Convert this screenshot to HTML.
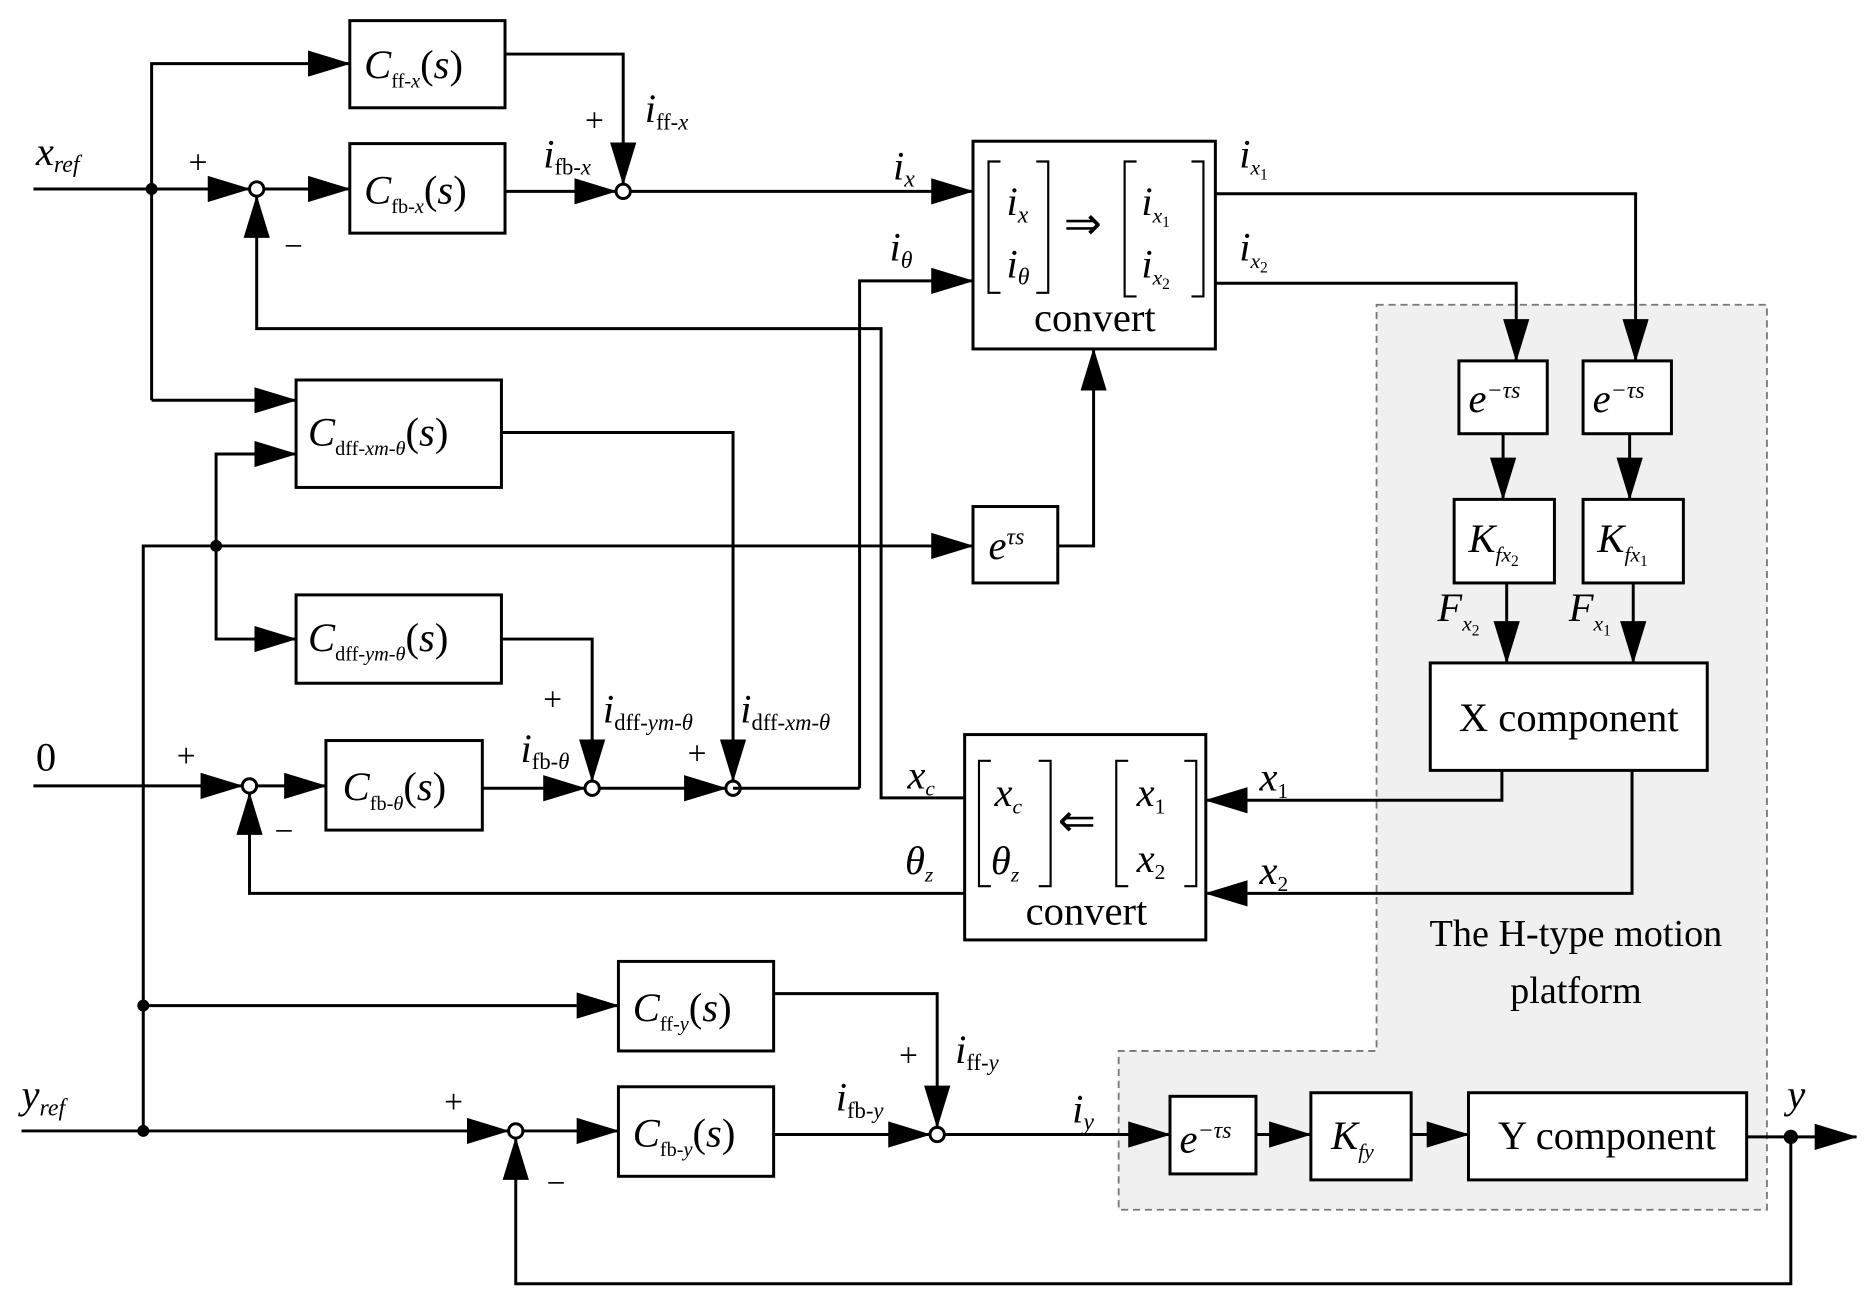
<!DOCTYPE html>
<html><head><meta charset="utf-8"><style>
html,body{margin:0;padding:0;background:#fff}
svg{display:block}
text{font-family:"Liberation Serif",serif;fill:#000}
.i{font-style:italic}
</style></head><body>
<svg width="1872" height="1302" viewBox="0 0 1568 1090" xmlns="http://www.w3.org/2000/svg">
<defs>
<marker id="a" markerUnits="userSpaceOnUse" markerWidth="36" markerHeight="22" refX="35" refY="11" orient="auto">
<path d="M0,0 L36,11 L0,22 Z" fill="#000"/></marker>
</defs>
<polygon points="1153,255 1480,255 1480,1013 937,1013 937,880 1153,880" fill="#f0f0f0" stroke="#777" stroke-width="1.5" stroke-dasharray="6,4"/>
<g fill="none" stroke="#000" stroke-width="2.5">
<rect x="293" y="17" width="130" height="73" fill="#fff"/>
<rect x="293" y="120" width="130" height="75" fill="#fff"/>
<rect x="815" y="118" width="203" height="174" fill="#fff"/>
<rect x="248" y="318" width="172" height="90" fill="#fff"/>
<rect x="815" y="424" width="71" height="64" fill="#fff"/>
<rect x="248" y="498" width="172" height="74" fill="#fff"/>
<rect x="273" y="620" width="131" height="75" fill="#fff"/>
<rect x="808" y="615" width="202" height="172" fill="#fff"/>
<rect x="1222" y="302" width="74" height="61" fill="#fff"/>
<rect x="1326" y="302" width="74" height="61" fill="#fff"/>
<rect x="1218" y="418" width="84" height="70" fill="#fff"/>
<rect x="1326" y="418" width="84" height="70" fill="#fff"/>
<rect x="1198" y="555" width="232" height="90" fill="#fff"/>
<rect x="518" y="805" width="130" height="75" fill="#fff"/>
<rect x="518" y="910" width="130" height="75" fill="#fff"/>
<rect x="980" y="918" width="72" height="65" fill="#fff"/>
<rect x="1098" y="915" width="84" height="73" fill="#fff"/>
<rect x="1230" y="915" width="233" height="73" fill="#fff"/>
<circle cx="215" cy="158" r="6" fill="#fff"/>
<circle cx="522" cy="160" r="6" fill="#fff"/>
<circle cx="209" cy="658" r="6" fill="#fff"/>
<circle cx="496" cy="660" r="6" fill="#fff"/>
<circle cx="614" cy="660" r="6" fill="#fff"/>
<circle cx="432" cy="947" r="6" fill="#fff"/>
<circle cx="785" cy="950" r="6" fill="#fff"/>
<path d="M127,335 L127,53 L293,53" marker-end="url(#a)"/>
<path d="M127,335 L248,335" marker-end="url(#a)"/>
<path d="M423,45 L522,45 L522,154" marker-end="url(#a)"/>
<path d="M28,158 L209,158" marker-end="url(#a)"/>
<path d="M221,158 L293,158" marker-end="url(#a)"/>
<path d="M423,160 L516,160" marker-end="url(#a)"/>
<path d="M528,160 L815,160" marker-end="url(#a)"/>
<path d="M808,668 L738,668 L738,275 L215,275 L215,164" marker-end="url(#a)"/>
<path d="M720,660 L720,235 L815,235" marker-end="url(#a)"/>
<path d="M614,660 L720,660"/>
<path d="M120,947 L120,457 L815,457" marker-end="url(#a)"/>
<path d="M886,457 L916,457 L916,292" marker-end="url(#a)"/>
<path d="M181,457 L181,380 L248,380" marker-end="url(#a)"/>
<path d="M181,457 L181,535 L248,535" marker-end="url(#a)"/>
<path d="M420,362 L614,362 L614,654" marker-end="url(#a)"/>
<path d="M420,535 L496,535 L496,654" marker-end="url(#a)"/>
<path d="M28,658 L203,658" marker-end="url(#a)"/>
<path d="M215,658 L273,658" marker-end="url(#a)"/>
<path d="M404,660 L490,660" marker-end="url(#a)"/>
<path d="M502,660 L608,660" marker-end="url(#a)"/>
<path d="M808,748 L209,748 L209,664" marker-end="url(#a)"/>
<path d="M1258,645 L1258,670 L1010,670" marker-end="url(#a)"/>
<path d="M1367,645 L1367,748 L1010,748" marker-end="url(#a)"/>
<path d="M1018,162 L1370,162 L1370,302" marker-end="url(#a)"/>
<path d="M1018,237 L1270,237 L1270,302" marker-end="url(#a)"/>
<path d="M1259,363 L1259,418" marker-end="url(#a)"/>
<path d="M1365,363 L1365,418" marker-end="url(#a)"/>
<path d="M1262,488 L1262,555" marker-end="url(#a)"/>
<path d="M1368,488 L1368,555" marker-end="url(#a)"/>
<path d="M120,842 L518,842" marker-end="url(#a)"/>
<path d="M648,832 L785,832 L785,944" marker-end="url(#a)"/>
<path d="M18,947 L426,947" marker-end="url(#a)"/>
<path d="M438,947 L518,947" marker-end="url(#a)"/>
<path d="M648,950 L779,950" marker-end="url(#a)"/>
<path d="M791,950 L980,950" marker-end="url(#a)"/>
<path d="M1052,950 L1098,950" marker-end="url(#a)"/>
<path d="M1182,950 L1230,950" marker-end="url(#a)"/>
<path d="M1463,952 L1555,952" marker-end="url(#a)"/>
<path d="M1500,952 L1500,1075 L432,1075 L432,953" marker-end="url(#a)"/>
</g>
<g fill="none" stroke="#000" stroke-width="1.8">
<path d="M838,135 L828,135 L828,245 L838,245 M868,135 L878,135 L878,245 L868,245"/>
<path d="M952,135 L942,135 L942,248 L952,248 M998,135 L1008,135 L1008,248 L998,248"/>
<path d="M830,637 L820,637 L820,742 L830,742 M870,637 L880,637 L880,742 L870,742"/>
<path d="M945,637 L935,637 L935,742 L945,742 M992,637 L1002,637 L1002,742 L992,742"/>
</g>
<g fill="#000">
<circle cx="127" cy="158" r="5"/><circle cx="181" cy="457" r="5"/>
<circle cx="120" cy="842" r="5"/><circle cx="120" cy="947" r="5"/>
<circle cx="1500" cy="952" r="6"/>
</g>
<g font-size="34">
<text x="305" y="65" class="i">C<tspan font-size="17" font-style="normal" dy="8">ff-</tspan><tspan font-size="17" dy="0">x</tspan><tspan dy="-8" font-style="normal">(</tspan>s<tspan font-style="normal">)</tspan></text>
<text x="305" y="170" class="i">C<tspan font-size="17" font-style="normal" dy="8">fb-</tspan><tspan font-size="17">x</tspan><tspan dy="-8" font-style="normal">(</tspan>s<tspan font-style="normal">)</tspan></text>
<text x="258" y="373" class="i">C<tspan font-size="17" font-style="normal" dy="8">dff-</tspan><tspan font-size="17">xm-θ</tspan><tspan dy="-8" font-style="normal">(</tspan>s<tspan font-style="normal">)</tspan></text>
<text x="258" y="545" class="i">C<tspan font-size="17" font-style="normal" dy="8">dff-</tspan><tspan font-size="17">ym-θ</tspan><tspan dy="-8" font-style="normal">(</tspan>s<tspan font-style="normal">)</tspan></text>
<text x="287" y="670" class="i">C<tspan font-size="17" font-style="normal" dy="8">fb-</tspan><tspan font-size="17">θ</tspan><tspan dy="-8" font-style="normal">(</tspan>s<tspan font-style="normal">)</tspan></text>
<text x="530" y="855" class="i">C<tspan font-size="17" font-style="normal" dy="8">ff-</tspan><tspan font-size="17">y</tspan><tspan dy="-8" font-style="normal">(</tspan>s<tspan font-style="normal">)</tspan></text>
<text x="530" y="960" class="i">C<tspan font-size="17" font-style="normal" dy="8">fb-</tspan><tspan font-size="17">y</tspan><tspan dy="-8" font-style="normal">(</tspan>s<tspan font-style="normal">)</tspan></text>
<text x="917" y="277" text-anchor="middle">convert</text>
<text x="910" y="774" text-anchor="middle">convert</text>
<text x="1314" y="612" text-anchor="middle">X component</text>
<text x="1346" y="962" text-anchor="middle">Y component</text>
<text x="1320" y="792" font-size="32" text-anchor="middle">The H-type motion</text>
<text x="1320" y="840" font-size="32" text-anchor="middle">platform</text>
<text x="30" y="645">0</text>
</g>
<g font-size="34" class="i">
<text x="843" y="180" class="i">i<tspan font-size="20" dy="6">x</tspan></text>
<text x="843" y="232" class="i">i<tspan font-size="20" dy="6">θ</tspan></text>
<text x="956" y="180" class="i">i<tspan font-size="18" dy="6">x</tspan><tspan font-size="13" font-style="normal" dy="4">1</tspan></text>
<text x="956" y="232" class="i">i<tspan font-size="18" dy="6">x</tspan><tspan font-size="13" font-style="normal" dy="4">2</tspan></text>
<text x="891" y="200" font-size="38" font-style="normal">⇒</text>
<text x="833" y="675" class="i">x<tspan font-size="18" dy="6">c</tspan></text>
<text x="830" y="732" class="i">θ<tspan font-size="18" dy="6">z</tspan></text>
<text x="886" y="700" font-size="38" font-style="normal">⇐</text>
<text x="952" y="675" class="i">x<tspan font-size="18" font-style="normal" dy="6">1</tspan></text>
<text x="952" y="730" class="i">x<tspan font-size="18" font-style="normal" dy="6">2</tspan></text>
<text x="1230" y="345" class="i">e<tspan font-size="20" dy="-12">−τs</tspan></text>
<text x="1334" y="345" class="i">e<tspan font-size="20" dy="-12">−τs</tspan></text>
<text x="988" y="965" class="i">e<tspan font-size="20" dy="-12">−τs</tspan></text>
<text x="828" y="468" class="i">e<tspan font-size="20" dy="-12">τs</tspan></text>
<text x="1230" y="462" class="i">K<tspan font-size="18" dy="8">fx</tspan><tspan font-size="13" font-style="normal" dy="4">2</tspan></text>
<text x="1338" y="462" class="i">K<tspan font-size="18" dy="8">fx</tspan><tspan font-size="13" font-style="normal" dy="4">1</tspan></text>
<text x="1115" y="962" class="i">K<tspan font-size="18" dy="8">fy</tspan></text>
<text x="1204" y="520" class="i">F<tspan font-size="18" dy="8">x</tspan><tspan font-size="13" font-style="normal" dy="4">2</tspan></text>
<text x="1314" y="520" class="i">F<tspan font-size="18" dy="8">x</tspan><tspan font-size="13" font-style="normal" dy="4">1</tspan></text>
<text x="30" y="138" class="i">x<tspan font-size="20" dy="6">ref</tspan></text>
<text x="18" y="928" class="i">y<tspan font-size="20" dy="6">ref</tspan></text>
<text x="1497" y="928" class="i">y</text>
<text x="748" y="150" class="i">i<tspan font-size="20" dy="6">x</tspan></text>
<text x="745" y="218" class="i">i<tspan font-size="20" dy="6">θ</tspan></text>
<text x="1038" y="140" class="i">i<tspan font-size="18" dy="6">x</tspan><tspan font-size="13" font-style="normal" dy="4">1</tspan></text>
<text x="1038" y="218" class="i">i<tspan font-size="18" dy="6">x</tspan><tspan font-size="13" font-style="normal" dy="4">2</tspan></text>
<text x="760" y="660" class="i">x<tspan font-size="18" dy="6">c</tspan></text>
<text x="758" y="732" class="i">θ<tspan font-size="18" dy="6">z</tspan></text>
<text x="1055" y="662" class="i">x<tspan font-size="18" font-style="normal" dy="6">1</tspan></text>
<text x="1055" y="740" class="i">x<tspan font-size="18" font-style="normal" dy="6">2</tspan></text>
<text x="898" y="940" class="i">i<tspan font-size="20" dy="6">y</tspan></text>
<text x="540" y="102" class="i">i<tspan font-size="19" font-style="normal" dy="6">ff-</tspan><tspan font-size="19">x</tspan></text>
<text x="455" y="140" class="i">i<tspan font-size="19" font-style="normal" dy="6">fb-</tspan><tspan font-size="19">x</tspan></text>
<text x="505" y="605" class="i">i<tspan font-size="19" font-style="normal" dy="6">dff-</tspan><tspan font-size="19">ym-θ</tspan></text>
<text x="620" y="605" class="i">i<tspan font-size="19" font-style="normal" dy="6">dff-</tspan><tspan font-size="19">xm-θ</tspan></text>
<text x="436" y="638" class="i">i<tspan font-size="19" font-style="normal" dy="6">fb-</tspan><tspan font-size="19">θ</tspan></text>
<text x="800" y="890" class="i">i<tspan font-size="19" font-style="normal" dy="6">ff-</tspan><tspan font-size="19">y</tspan></text>
<text x="700" y="930" class="i">i<tspan font-size="19" font-style="normal" dy="6">fb-</tspan><tspan font-size="19">y</tspan></text>
</g>
<g font-size="28">
<text x="158" y="145">+</text><text x="238" y="215">−</text>
<text x="490" y="110">+</text>
<text x="148" y="642">+</text><text x="230" y="705">−</text>
<text x="455" y="595">+</text><text x="576" y="640">+</text>
<text x="372" y="932">+</text><text x="458" y="1000">−</text>
<text x="753" y="893">+</text>
</g>
</svg>
</body></html>
